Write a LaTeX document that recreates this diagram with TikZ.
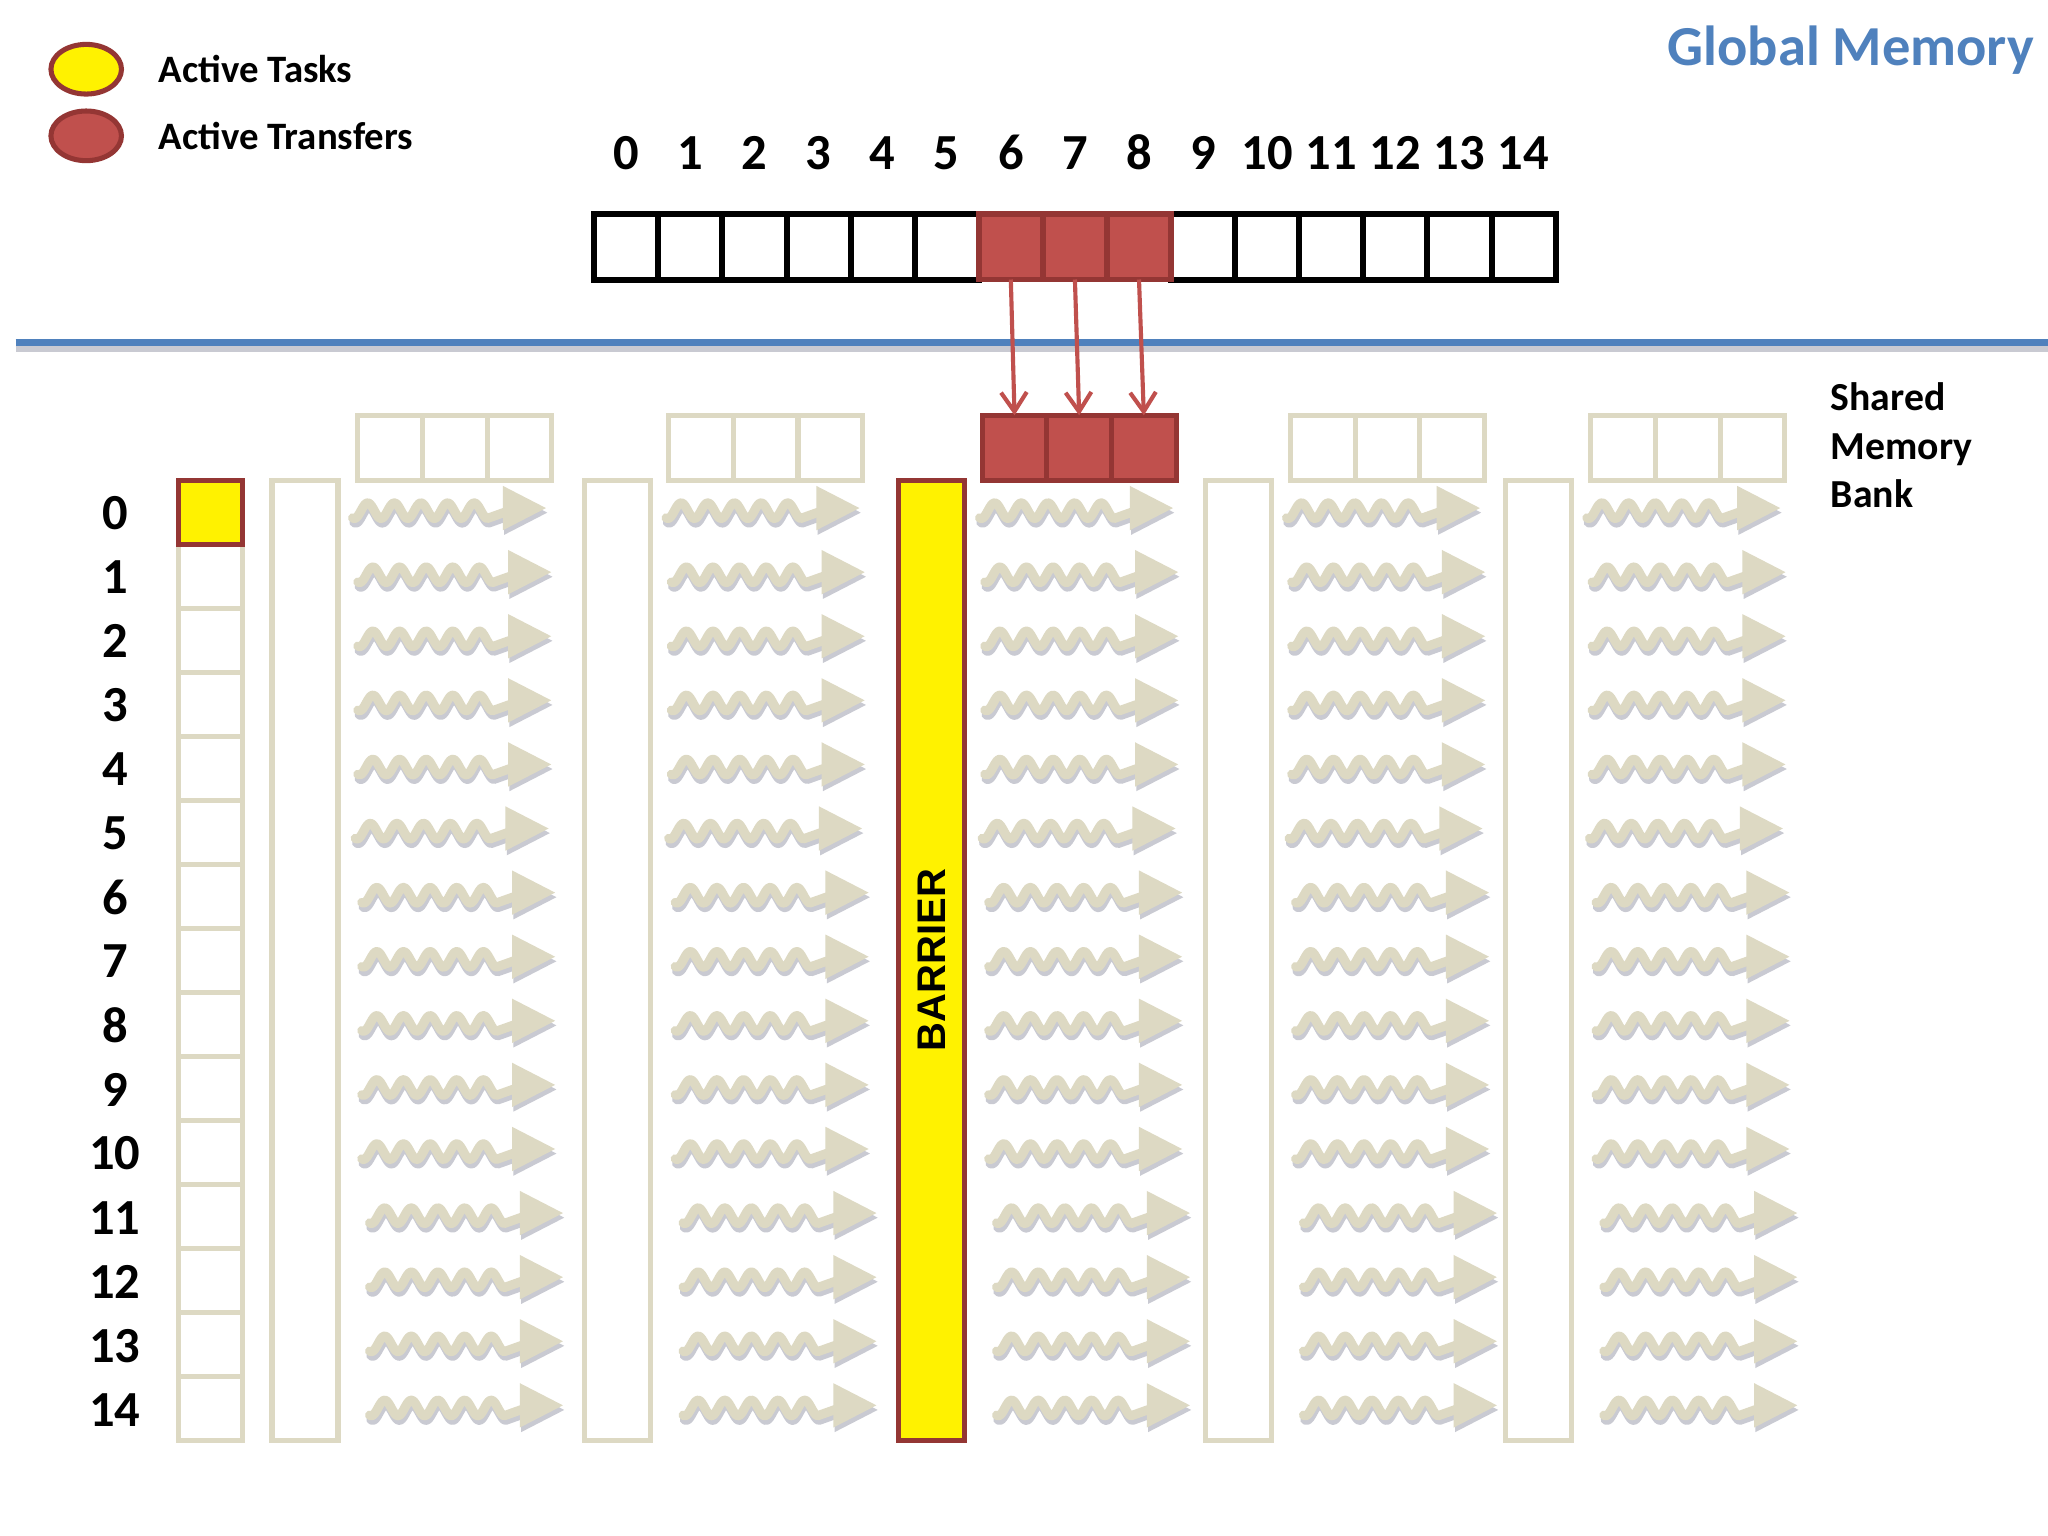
\documentclass[tikz,border=0pt]{standalone}
\usepackage{fontspec}
\setmainfont{Carlito}
\newfontfamily\arialfont{Liberation Sans}
\usetikzlibrary{arrows.meta,shapes.geometric}
\definecolor{gmblue}{HTML}{4F81BD}
\definecolor{tred}{HTML}{C0504D}
\definecolor{dred}{HTML}{943634}
\definecolor{lgray}{HTML}{DDD9C3}
\definecolor{shad}{HTML}{C9CAD2}
\tikzset{
  gcell/.style={draw=black, line width=1.3pt, minimum width=0.4907cm, minimum height=0.5cm, inner sep=0pt, outer sep=0pt},
  rcell/.style={draw=dred, fill=tred, line width=1.2pt, minimum width=0.4907cm, minimum height=0.5cm, inner sep=0pt, outer sep=0pt},
  scell/.style={draw=lgray, line width=1.1pt, minimum width=0.495cm, minimum height=0.5cm, inner sep=0pt, outer sep=0pt},
  srcell/.style={draw=dred, fill=tred, line width=1.1pt, minimum width=0.495cm, minimum height=0.5cm, inner sep=0pt, outer sep=0pt},
  icell/.style={draw=lgray, line width=1.1pt, minimum width=0.49cm, minimum height=0.49cm, inner sep=0pt, outer sep=0pt},
  tallcol/.style={draw=lgray, line width=1.1pt, minimum width=0.505cm, minimum height=7.35cm, inner sep=0pt, outer sep=0pt},
  legtxt/.style={font=\fontsize{8.45}{10}\selectfont\bfseries, anchor=west, inner sep=0pt},
  numtxt/.style={font=\fontsize{11}{12}\selectfont\bfseries, inner sep=0pt},
  redarrow/.style={draw=tred, line width=0.9pt, -{Straight Barb[length=4.2pt,width=5.6pt]}},
  squig/.pic={
    \begin{scope}[shift={(1,3.5)}]
      \draw[shad, line width=2pt, line cap=round, line join=round]
        plot[domain=0:103, samples=80] (\x,{2-6*cos((\x-11.5)*17.65)}) -- (117,3);
      \fill[shad] (115,-17) -- (148,0) -- (115,17) -- cycle;
    \end{scope}
    \draw[lgray, line width=2pt, line cap=round, line join=round]
      plot[domain=0:103, samples=80] (\x,{2-6*cos((\x-11.5)*17.65)}) -- (117,3);
    \fill[lgray] (115,-17) -- (148,0) -- (115,17) -- cycle;
  }
}
\begin{document}
\begin{tikzpicture}[x=0.01cm,y=-0.01cm]
\useasboundingbox (0,0) rectangle (1568,1176);
\fill[white] (0,0) rectangle (1568,1176);

% legend
\node (legy) [ellipse, draw=dred, fill=yellow, line width=1.1pt, minimum width=0.54cm, minimum height=0.38cm, inner sep=0pt] at (66,53) {};
\node (legr) [ellipse, draw=dred, fill=tred, line width=1.1pt, minimum width=0.54cm, minimum height=0.38cm, inner sep=0pt] at (66,104) {};
\node (legyt) [legtxt] at (121,53) {Active Tasks};
\node (legrt) [legtxt] at (121,104) {Active Transfers};

% title
\node (title) [anchor=base east, inner sep=0pt, text=gmblue, font=\fontsize{12.3}{14}\selectfont\bfseries] at (1558,50) {Global Memory};

% global memory array
\foreach \i in {0,...,14} {
  \node (n\i) [numtxt, anchor=base] at ({479.5+49.07*\i},130) {\i};
}
\foreach \i in {0,1,2,3,4,5,9,10,11,12,13,14} {
  \node (g\i) [gcell] at ({479.5+49.07*\i},189) {};
}
\foreach \i in {6,7,8} {
  \node (g\i) [rcell] at ({479.5+49.07*\i},189) {};
}

% separator line
\draw[shad, line width=1.3pt] (12,267.5) -- (1568,267.5);
\draw[gmblue, line width=1.6pt] (12,262) -- (1568,262);

% shared memory banks
\foreach \b/\xs in {1/274,2/512,4/988,5/1218} {
  \foreach \j in {1,2,3} {
    \node (sm-\b-\j) [scell] at ({\xs+24.75+49.5*(\j-1)},343) {};
  }
}
\foreach \j in {1,2,3} {
  \node (sm-3-\j) [srcell] at ({752+24.75+49.5*(\j-1)},343) {};
}
\node (smlabel) [anchor=west, align=left, inner sep=0pt, font=\fontsize{8.65}{10.5}\selectfont\bfseries] at (1401,341) {Shared\\Memory\\Bank};

% transfers
\draw[redarrow] (g6.south) -- (sm-3-1.north);
\draw[redarrow] (g7.south) -- (sm-3-2.north);
\draw[redarrow] (g8.south) -- (sm-3-3.north);

% index column
\foreach \k in {1,...,14} {
  \node (idx\k) [icell] at (161.5,{392.5+49*\k}) {};
}
\node (idx0) [icell, draw=dred, fill=yellow] at (161.5,392.5) {};
\foreach \k in {0,...,14} {
  \node (lab\k) [numtxt] at (88,{392.5+49.07*\k}) {\k};
}

% tall columns
\node (colA) [tallcol] at (233.5,735.5) {};
\node (colB) [tallcol] at (473,735.5) {};
\node (colD) [tallcol] at (948,735.5) {};
\node (colE) [tallcol] at (1178,735.5) {};
\node (barrier) [tallcol, draw=dred, fill=yellow] at (713,735.5) {};
\node (bartxt) [rotate=90, inner sep=0pt, font=\arialfont\fontsize{8.7}{10}\selectfont\bfseries] at (713,735) {BARRIER};

% squiggly task arrows
\foreach \gx in {270,510,750,985,1215} {
  \foreach \k/\dx in {0/0,1/4,2/4,3/4,4/4,5/2,6/7,7/7,8/7,9/7,10/7,11/13,12/13,13/13,14/13} {
    \pic at ({\gx+\dx},{389+49.07*\k}) {squig};
  }
}
\end{tikzpicture}
\end{document}
